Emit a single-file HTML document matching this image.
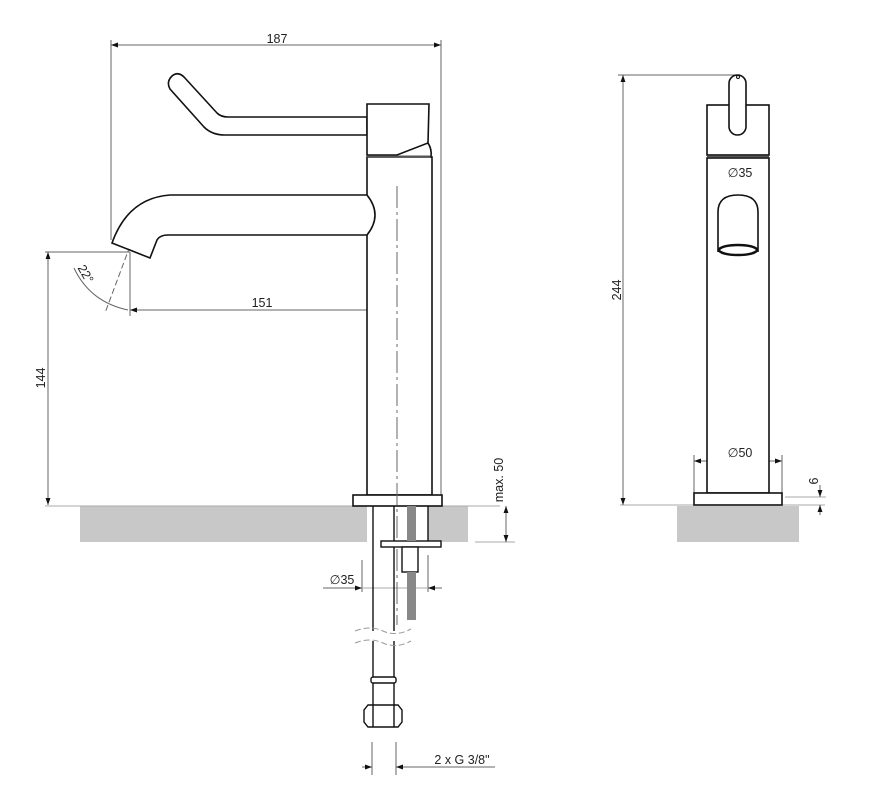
<!DOCTYPE html>
<html><head><meta charset="utf-8"><style>
html,body{margin:0;padding:0;background:#fff;width:879px;height:806px;overflow:hidden}
svg{display:block}
text{font-family:"Liberation Sans",sans-serif;font-size:12.5px;fill:#222}
</style></head><body>
<svg width="879" height="806" viewBox="0 0 879 806" xmlns="http://www.w3.org/2000/svg">
<defs>
<marker id="a" viewBox="0 0 10 10" refX="10" refY="5" markerWidth="7" markerHeight="7" orient="auto-start-reverse"><path d="M0,1.5 L10,5 L0,8.5z" fill="#111"/></marker>
</defs>
<rect x="80" y="506" width="287" height="36" fill="#c8c8c8"/>
<rect x="428" y="506" width="40" height="36" fill="#c8c8c8"/>
<rect x="677" y="506" width="122" height="36" fill="#c8c8c8"/>
<g stroke="#aaa" stroke-width="1" fill="none">
<line x1="45" y1="506" x2="500" y2="506"/>
<line x1="475" y1="542" x2="515" y2="542"/>
<line x1="620" y1="505" x2="825" y2="505"/>
<line x1="785" y1="497" x2="826" y2="497"/>
</g>
<g stroke="#666" stroke-width="1" fill="none">
<line x1="111" y1="40" x2="111" y2="240"/>
<line x1="441" y1="40" x2="441" y2="495"/>
<line x1="111" y1="45" x2="441" y2="45" marker-start="url(#a)" marker-end="url(#a)"/>
<line x1="45" y1="252" x2="130" y2="252"/>
<line x1="48" y1="252" x2="48" y2="505" marker-start="url(#a)" marker-end="url(#a)"/>
<line x1="130" y1="252" x2="130" y2="316"/>
<line x1="130" y1="310" x2="397" y2="310" marker-start="url(#a)" marker-end="url(#a)"/>
<path d="M74,268 Q90,302 128,310"/>
<line x1="130" y1="246" x2="105" y2="313" stroke-dasharray="6,3"/>
<line x1="506" y1="506" x2="506" y2="542" marker-start="url(#a)" marker-end="url(#a)"/>
<line x1="362" y1="560" x2="362" y2="592"/>
<line x1="428" y1="555" x2="428" y2="592"/>
<line x1="323" y1="588" x2="362" y2="588" marker-end="url(#a)"/>
<line x1="362" y1="588" x2="442" y2="588" stroke="#aaa"/>
<line x1="442" y1="588" x2="428" y2="588" marker-end="url(#a)"/>
<line x1="372" y1="742" x2="372" y2="775"/>
<line x1="396" y1="742" x2="396" y2="775"/>
<line x1="362" y1="767" x2="372" y2="767" marker-end="url(#a)"/>
<line x1="495" y1="767" x2="396" y2="767" marker-end="url(#a)"/>
<line x1="618" y1="75" x2="737" y2="75"/>
<line x1="623" y1="75" x2="623" y2="505" marker-start="url(#a)" marker-end="url(#a)"/>
<line x1="707" y1="181" x2="769" y2="181" marker-start="url(#a)" marker-end="url(#a)"/>
<line x1="694" y1="455" x2="694" y2="493"/>
<line x1="782" y1="455" x2="782" y2="493"/>
<line x1="694" y1="461" x2="782" y2="461" marker-start="url(#a)" marker-end="url(#a)"/>
<line x1="820" y1="485" x2="820" y2="497" marker-end="url(#a)"/>
<line x1="820" y1="515" x2="820" y2="505" marker-end="url(#a)"/>
</g>
<g stroke="#111" stroke-width="1.6" fill="#fff">
<path d="M172,76 Q178,71 184,77 L217,113 Q221,117 228,117 L367,117 L367,135 L225,135 Q212,135 204,127 L170,89 Q166,82 172,76z"/>
<path d="M367,104 L429,104 L428,143 L397,155 L367,155z"/>
<path d="M428,143 Q432,149 431,157"/>
<rect x="367" y="157" width="65" height="338"/>
<path d="M367,195 L170,195 Q128,198 112,243 L150,258 L157,240 Q160,235 168,235 L367,235 Q383,215 367,195"/>
<rect x="353" y="495" width="89" height="11"/>
</g>
<line x1="397" y1="186" x2="397" y2="625" stroke="#666" stroke-width="1" stroke-dasharray="22,4,3,4"/>
<line x1="367" y1="156.5" x2="430" y2="156.5" stroke="#555" stroke-width="2"/>
<g stroke="#111" stroke-width="1.4" fill="none">
<line x1="373" y1="506" x2="373" y2="705"/>
<line x1="394" y1="506" x2="394" y2="705"/>
<line x1="428" y1="506" x2="428" y2="541"/>
<rect x="381" y="541" width="60" height="6" fill="#fff"/>
<rect x="402" y="547" width="16" height="25" fill="#fff"/>
<rect x="371" y="677" width="25" height="6" rx="2" fill="#fff"/>
<path d="M368,705 L398,705 L402,710 L402,722 L398,727 L368,727 L364,722 L364,710z" fill="#fff"/>
<line x1="373" y1="705" x2="373" y2="727"/>
<line x1="394" y1="705" x2="394" y2="727"/>
</g>
<rect x="407" y="506" width="9" height="35" fill="#888"/>
<rect x="407" y="572" width="9" height="48" fill="#888"/>
<g stroke="#fff" stroke-width="10" fill="none"><line x1="360" y1="636" x2="410" y2="636"/></g>
<g stroke="#999" stroke-width="1" fill="none" stroke-dasharray="6,3">
<path d="M355,631 Q370,625 383,631 T411,629"/>
<path d="M355,643 Q370,637 383,643 T411,641"/>
</g>
<g stroke="#111" stroke-width="1.6" fill="#fff">
<rect x="707" y="105" width="62" height="50"/>
<rect x="729" y="75" width="17" height="60" rx="8.5"/>
<rect x="707" y="158" width="62" height="335"/>
<rect x="694" y="493" width="88" height="12"/>
<path d="M718,252 L718,212 Q718,195 738,195 Q758,195 758,212 L758,252"/>
<ellipse cx="738" cy="250" rx="19" ry="5" stroke-width="2.5"/>
</g>
<circle cx="738" cy="77" r="1.5" fill="none" stroke="#111"/>
<line x1="707" y1="156.5" x2="769" y2="156.5" stroke="#555" stroke-width="2"/>
<text x="277" y="43" text-anchor="middle">187</text>
<text x="262" y="307" text-anchor="middle">151</text>
<text transform="translate(45,378) rotate(-90)" text-anchor="middle">144</text>
<text transform="translate(82,276) rotate(60)" text-anchor="middle">22°</text>
<text transform="translate(503,480) rotate(-90)" text-anchor="middle">max. 50</text>
<text x="342" y="584" text-anchor="middle">∅35</text>
<text x="462" y="764" text-anchor="middle">2 x G 3/8"</text>
<text transform="translate(621,290) rotate(-90)" text-anchor="middle">244</text>
<text x="740" y="177" text-anchor="middle">∅35</text>
<text x="740" y="457" text-anchor="middle">∅50</text>
<text transform="translate(818,481) rotate(-90)" text-anchor="middle">6</text>
</svg>
</body></html>
